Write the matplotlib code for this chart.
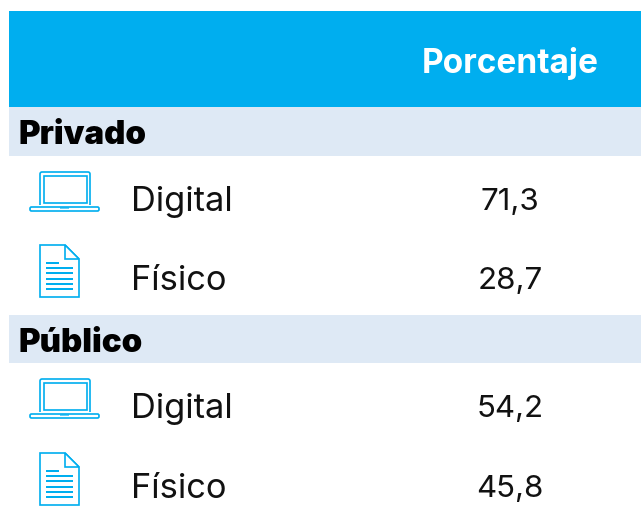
import matplotlib
matplotlib.use("Agg")
import matplotlib.pyplot as plt
from matplotlib.patches import Rectangle, FancyBboxPatch, Polygon

W, H = 641, 516
header = "Porcentaje"
groups = ["Privado", "Público"]
categories = ["Digital", "Físico"]
values = [["71,3", "28,7"], ["54,2", "45,8"]]

BLUE = "#00AEEF"
BAND = "#DEE9F5"
FONT = "Inter"

fig = plt.figure(figsize=(W / 100, H / 100), dpi=100)
ax = fig.add_axes([0, 0, 1, 1])
ax.set_xlim(0, W)
ax.set_ylim(H, 0)
ax.axis("off")

ax.add_patch(Rectangle((9, 11), 632, 96, fc=BLUE, ec="none"))
ax.text(510, 63, header, color="white", fontsize=24, fontweight="bold",
        family=FONT, ha="center", va="center")


def laptop(x, y):
    lw = 1.2
    ax.add_patch(FancyBboxPatch((x + 10, y), 50, 36, boxstyle="round,pad=0,rounding_size=2",
                                fc="none", ec=BLUE, lw=lw))
    ax.add_patch(Rectangle((x + 13.5, y + 4), 43, 27, fc="none", ec=BLUE, lw=lw))
    ax.add_patch(Rectangle((x + 9, y + 33), 52, 6, fc="white", ec="none"))
    ax.add_patch(FancyBboxPatch((x, y + 35), 69, 4, boxstyle="round,pad=0,rounding_size=1.5",
                                fc="white", ec=BLUE, lw=lw))
    ax.add_patch(Rectangle((x + 30, y + 35), 9, 2, fc=BLUE, ec="none", alpha=0.6))


def document(x, y):
    lw = 1.2
    ax.add_patch(Polygon([(x, y), (x + 25, y), (x + 39, y + 14), (x + 39, y + 52), (x, y + 52)],
                         closed=True, fc="white", ec=BLUE, lw=lw))
    ax.add_patch(Polygon([(x + 25, y), (x + 25, y + 14), (x + 39, y + 14)],
                         closed=True, fc="white", ec=BLUE, lw=lw))
    for i, dy in enumerate([17, 22, 27, 33, 38, 43]):
        w = 13 if i == 0 else 27
        ax.add_patch(Rectangle((x + 6, y + dy), w, 1.8, fc=BLUE, ec="none"))


bands = [(107, 49), (315, 48)]
rows = [[(200, 172, 245), (279, 172, 245)], [(407, 379, 453), (487, 379, 453)]]

for g, (top, h) in enumerate(bands):
    ax.add_patch(Rectangle((9, top), 632, h, fc=BAND, ec="none"))
    ax.text(19, top + h / 2 + 4, groups[g], color="black", fontsize=23.8, fontweight="black",
            family=FONT, ha="left", va="center")
    for c, (yc, ly, dy) in enumerate(rows[g]):
        if c == 0:
            laptop(30, ly)
        else:
            document(40, dy)
        ax.text(131, yc + 2, categories[c], color="#111111", fontsize=24.8, family=FONT,
                fontweight="normal", ha="left", va="center")
        ax.text(510, yc + 2, values[g][c], color="#111111", fontsize=22.5, family=FONT,
                fontweight="normal", ha="center", va="center")

fig.savefig("out.png", dpi=100, facecolor="white")
